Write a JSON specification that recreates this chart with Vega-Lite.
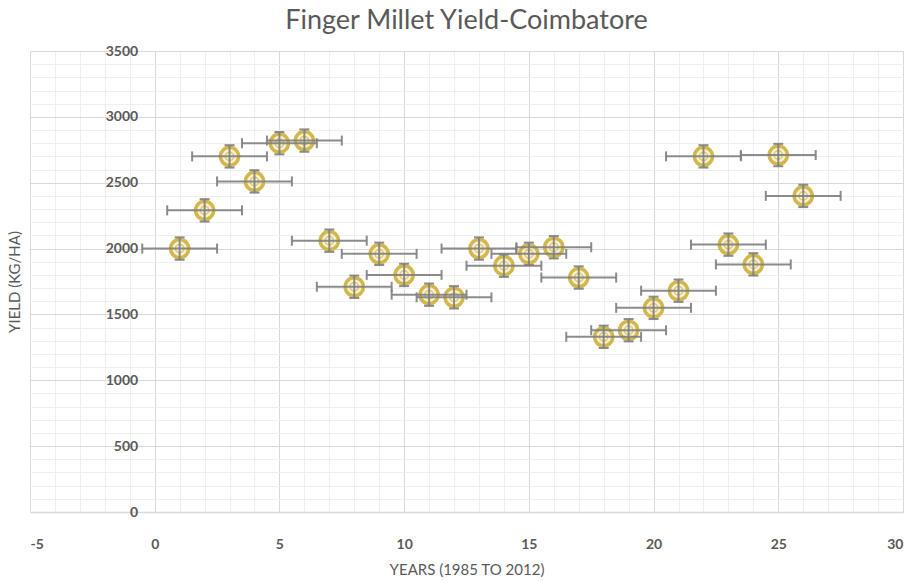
{
  "$schema": "https://vega.github.io/schema/vega-lite/v6.json",
  "width": 873,
  "height": 461,
  "autosize": {"type": "none"},
  "padding": {"left": 30, "top": 51, "right": 13, "bottom": 70},
  "background": "white",
  "title": {"text": "Finger Millet Yield-Coimbatore", "fontSize": 27, "font": "Lato", "fontWeight": "normal", "color": "#595959", "offset": 9, "anchor": "middle"},
  "config": {"view": {"stroke": null}, "axis": {"labelFont": "Lato", "titleFont": "Lato"}},
  "resolve": {"axis": {"x": "independent", "y": "independent"}},
  "data": {"values": [
    {"year":1,"yield":2000,"xlo":-0.5,"xhi":2.5,"ylo":1915,"yhi":2085},
    {"year":2,"yield":2290,"xlo":0.5,"xhi":3.5,"ylo":2205,"yhi":2375},
    {"year":3,"yield":2700,"xlo":1.5,"xhi":4.5,"ylo":2615,"yhi":2785},
    {"year":4,"yield":2510,"xlo":2.5,"xhi":5.5,"ylo":2425,"yhi":2595},
    {"year":5,"yield":2800,"xlo":3.5,"xhi":6.5,"ylo":2715,"yhi":2885},
    {"year":6,"yield":2820,"xlo":4.5,"xhi":7.5,"ylo":2735,"yhi":2905},
    {"year":7,"yield":2060,"xlo":5.5,"xhi":8.5,"ylo":1975,"yhi":2145},
    {"year":8,"yield":1710,"xlo":6.5,"xhi":9.5,"ylo":1625,"yhi":1795},
    {"year":9,"yield":1960,"xlo":7.5,"xhi":10.5,"ylo":1875,"yhi":2045},
    {"year":10,"yield":1800,"xlo":8.5,"xhi":11.5,"ylo":1715,"yhi":1885},
    {"year":11,"yield":1650,"xlo":9.5,"xhi":12.5,"ylo":1565,"yhi":1735},
    {"year":12,"yield":1630,"xlo":10.5,"xhi":13.5,"ylo":1545,"yhi":1715},
    {"year":13,"yield":2000,"xlo":11.5,"xhi":14.5,"ylo":1915,"yhi":2085},
    {"year":14,"yield":1870,"xlo":12.5,"xhi":15.5,"ylo":1785,"yhi":1955},
    {"year":15,"yield":1960,"xlo":13.5,"xhi":16.5,"ylo":1875,"yhi":2045},
    {"year":16,"yield":2010,"xlo":14.5,"xhi":17.5,"ylo":1925,"yhi":2095},
    {"year":17,"yield":1780,"xlo":15.5,"xhi":18.5,"ylo":1695,"yhi":1865},
    {"year":18,"yield":1330,"xlo":16.5,"xhi":19.5,"ylo":1245,"yhi":1415},
    {"year":19,"yield":1380,"xlo":17.5,"xhi":20.5,"ylo":1295,"yhi":1465},
    {"year":20,"yield":1550,"xlo":18.5,"xhi":21.5,"ylo":1465,"yhi":1635},
    {"year":21,"yield":1680,"xlo":19.5,"xhi":22.5,"ylo":1595,"yhi":1765},
    {"year":22,"yield":2700,"xlo":20.5,"xhi":23.5,"ylo":2615,"yhi":2785},
    {"year":23,"yield":2030,"xlo":21.5,"xhi":24.5,"ylo":1945,"yhi":2115},
    {"year":24,"yield":1880,"xlo":22.5,"xhi":25.5,"ylo":1795,"yhi":1965},
    {"year":25,"yield":2710,"xlo":23.5,"xhi":26.5,"ylo":2625,"yhi":2795},
    {"year":26,"yield":2400,"xlo":24.5,"xhi":27.5,"ylo":2315,"yhi":2485}
  ]},
  "layer": [
    {
      "mark": {"type": "point", "opacity": 0},
      "encoding": {
        "x": {"field": "year", "type": "quantitative", "scale": {"domain": [-5, 30], "nice": false, "zero": false},
              "axis": {"orient": "bottom", "values": [-4,-3,-2,-1,1,2,3,4,6,7,8,9,11,12,13,14,16,17,18,19,21,22,23,24,26,27,28,29], "grid": true, "gridColor": "#efefef", "gridWidth": 1, "labels": false, "ticks": false, "domain": false, "title": null}},
        "y": {"field": "yield", "type": "quantitative", "scale": {"domain": [0, 3500], "nice": false},
              "axis": {"orient": "left", "values": [100,200,300,400,600,700,800,900,1100,1200,1300,1400,1600,1700,1800,1900,2100,2200,2300,2400,2600,2700,2800,2900,3100,3200,3300,3400], "grid": true, "gridColor": "#efefef", "gridWidth": 1, "labels": false, "ticks": false, "domain": false, "title": null}}
      }
    },
    {
      "mark": {"type": "point", "opacity": 0},
      "encoding": {
        "x": {"field": "year", "type": "quantitative",
              "axis": {"orient": "bottom", "values": [-5,0,5,10,15,20,25,30], "labelExpr": "'' + datum.value", "grid": true, "gridColor": "#d9d9d9", "gridWidth": 1, "ticks": false, "domain": true, "domainColor": "#d9d9d9", "domainWidth": 1.5, "labelPadding": 25, "labelFontSize": 14, "labelFontWeight": "bold", "labelColor": "#595959", "title": "YEARS (1985 TO 2012)", "titleFontSize": 15, "titleFontWeight": "normal", "titleColor": "#595959", "titlePadding": 11}},
        "y": {"field": "yield", "type": "quantitative",
              "axis": {"orient": "left", "values": [0,500,1000,1500,2000,2500,3000,3500], "labelExpr": "'' + datum.value", "grid": true, "gridColor": "#d9d9d9", "gridWidth": 1, "ticks": false, "domain": false, "offset": -124.7, "labelPadding": 17, "labelFontSize": 14, "labelFontWeight": "bold", "labelColor": "#595959", "title": "YIELD (KG/HA)", "titleFontSize": 15, "titleFontWeight": "normal", "titleColor": "#595959", "titleX": -140, "titleBaseline": "middle"}}
      }
    },
    {
      "mark": {"type": "point", "shape": "circle", "size": 330, "filled": false, "stroke": "#D2B84C", "strokeWidth": 3.5, "fill": "#F4E8B4", "fillOpacity": 0.6},
      "encoding": {"x": {"field": "year", "type": "quantitative", "axis": null}, "y": {"field": "yield", "type": "quantitative", "axis": null}}
    },
    {
      "mark": {"type": "point", "shape": "circle", "size": 70, "filled": false, "stroke": "#D2B84C", "strokeWidth": 1.5},
      "encoding": {"x": {"field": "year", "type": "quantitative", "axis": null}, "y": {"field": "yield", "type": "quantitative", "axis": null}}
    },
    {
      "mark": {"type": "rule", "color": "#7f7f7f", "strokeWidth": 2, "opacity": 0.9},
      "encoding": {"x": {"field": "xlo", "type": "quantitative", "axis": null}, "x2": {"field": "xhi"}, "y": {"field": "yield", "type": "quantitative", "axis": null}}
    },
    {
      "mark": {"type": "rule", "color": "#7f7f7f", "strokeWidth": 2, "opacity": 0.9},
      "encoding": {"y": {"field": "ylo", "type": "quantitative", "axis": null}, "y2": {"field": "yhi"}, "x": {"field": "year", "type": "quantitative", "axis": null}}
    },
    {
      "mark": {"type": "tick", "orient": "vertical", "color": "#7f7f7f", "size": 10, "thickness": 2, "opacity": 0.9},
      "encoding": {"x": {"field": "xlo", "type": "quantitative", "axis": null}, "y": {"field": "yield", "type": "quantitative", "axis": null}}
    },
    {
      "mark": {"type": "tick", "orient": "vertical", "color": "#7f7f7f", "size": 10, "thickness": 2, "opacity": 0.9},
      "encoding": {"x": {"field": "xhi", "type": "quantitative", "axis": null}, "y": {"field": "yield", "type": "quantitative", "axis": null}}
    },
    {
      "mark": {"type": "tick", "orient": "horizontal", "color": "#7f7f7f", "size": 10, "thickness": 2, "opacity": 0.9},
      "encoding": {"x": {"field": "year", "type": "quantitative", "axis": null}, "y": {"field": "ylo", "type": "quantitative", "axis": null}}
    },
    {
      "mark": {"type": "tick", "orient": "horizontal", "color": "#7f7f7f", "size": 10, "thickness": 2, "opacity": 0.9},
      "encoding": {"x": {"field": "year", "type": "quantitative", "axis": null}, "y": {"field": "yhi", "type": "quantitative", "axis": null}}
    }
  ]
}
